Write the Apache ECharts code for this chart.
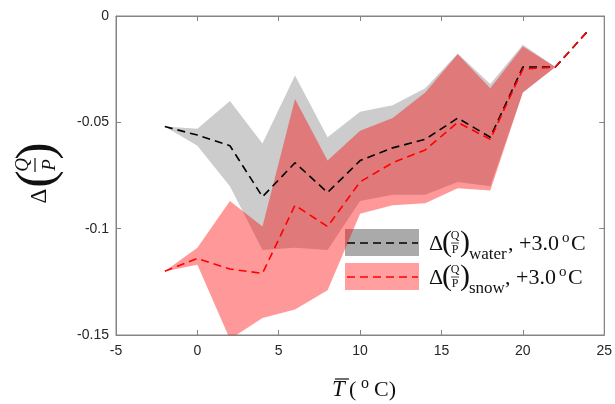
<!DOCTYPE html>
<html>
<head>
<meta charset="utf-8">
<script src="https://cdn.jsdelivr.net/npm/echarts@6/dist/echarts.min.js"></script>
<style>
  html, body { margin: 0; padding: 0; background: #fff; }
  #chart { width: 615px; height: 404px; }
</style>
</head>
<body>
<div id="chart"></div>
<script>
  // mean temperature bins (x)
  var temps = [-2, 0, 2, 4, 6, 8, 10, 12, 14, 16, 18, 20, 22, 24]
  // water-limited change and its range
  var waterMean = [-0.052, -0.056, -0.061, -0.085, -0.069, -0.083, -0.068, -0.062, -0.058, -0.048, -0.057, -0.024, -0.024, -0.007]
  var waterUpper = [-0.052, -0.053, -0.040, -0.060, -0.028, -0.057, -0.045, -0.042, -0.034, -0.0176, -0.032, -0.0135, -0.024, -0.007]
  var waterLower = [-0.052, -0.061, -0.080, -0.110, -0.109, -0.110, -0.087, -0.084, -0.084, -0.078, -0.080, -0.036, -0.024, -0.007]
  // snow change and its range
  var snowMean = [-0.120, -0.114, -0.119, -0.121, -0.089, -0.099, -0.078, -0.069, -0.063, -0.050, -0.058, -0.025, -0.024, -0.007]
  var snowUpper = [-0.120, -0.109, -0.087, -0.099, -0.039, -0.068, -0.054, -0.048, -0.036, -0.018, -0.034, -0.0144, -0.024, -0.007]
  var snowLower = [-0.120, -0.117, -0.152, -0.142, -0.138, -0.129, -0.093, -0.089, -0.088, -0.081, -0.082, -0.036, -0.024, -0.007]

  var xTicks = { min: -5, max: 25, interval: 5 }
  var yTicks = { min: -0.15, max: 0, interval: 0.05 }

  var serif = 'Liberation Serif'
  var axisGray = '#858585'

  function pairs(ys) {
    return temps.map(function (t, i) { return [t, ys[i]] })
  }

  // band polygon drawn through the axes (upper edge then lower edge back)
  function band(upper, lower, color) {
    return {
      type: 'custom',
      clip: true,
      silent: true,
      data: [0],
      renderItem: function (params, api) {
        var pts = []
        for (var i = 0; i < temps.length; i++) pts.push(api.coord([temps[i], upper[i]]))
        for (var j = temps.length - 1; j >= 0; j--) pts.push(api.coord([temps[j], lower[j]]))
        return { type: 'polygon', shape: { points: pts }, style: { fill: color } }
      }
    }
  }

  function dashLine(ys, color) {
    return {
      type: 'line',
      data: pairs(ys),
      symbol: 'none',
      silent: true,
      lineStyle: { color: color, width: 1.6, type: [8, 5] }
    }
  }

  function txt(x, y, s, size, opt) {
    opt = opt || {}
    return {
      type: 'text', x: x, y: y,
      style: {
        text: s, fontFamily: serif, fontSize: size, fill: '#111',
        fontStyle: opt.italic ? 'italic' : 'normal',
        align: opt.align || 'left', verticalAlign: 'middle'
      }
    }
  }

  function legendRow(y, boxColor, lineColor, sub, commaX) {
    return [
      { type: 'rect', shape: { x: 345, y: y - 14, width: 74, height: 27 }, style: { fill: boxColor } },
      { type: 'line', shape: { x1: 347, y1: y, x2: 418, y2: y }, style: { stroke: lineColor, lineWidth: 1.6, lineDash: [8, 5] } },
      txt(429, y + 1, 'Δ', 22),
      txt(442, y, '(', 30),
      txt(455, y - 7, 'Q', 12, { align: 'center' }),
      { type: 'line', shape: { x1: 451, y1: y, x2: 459, y2: y }, style: { stroke: '#111', lineWidth: 0.8 } },
      txt(455, y + 7, 'P', 12, { align: 'center' }),
      txt(460, y, ')', 30),
      txt(469, y + 12, sub, 17),
      txt(commaX, y + 1, ', +3.0', 22),
      txt(commaX + 54, y - 5, 'o', 15),
      txt(commaX + 63, y + 1, 'C', 22)
    ]
  }

  var chart = echarts.init(document.getElementById('chart'))
  var option = {
    animation: false,
    grid: { left: 116, right: 9, top: 16, bottom: 69, show: true, borderColor: axisGray, borderWidth: 1 },
    xAxis: [{
      type: 'value', min: xTicks.min, max: xTicks.max, interval: xTicks.interval,
      axisLine: { show: true, onZero: false, lineStyle: { color: axisGray } },
      axisTick: { show: true, inside: true, length: 5, lineStyle: { color: axisGray } },
      axisLabel: { color: '#262626', fontSize: 14, fontFamily: 'Liberation Sans', margin: 9 },
      splitLine: { show: false }
    }, {
      type: 'value', position: 'top', min: xTicks.min, max: xTicks.max, interval: xTicks.interval,
      axisLine: { show: true, onZero: false, lineStyle: { color: axisGray } },
      axisTick: { show: true, inside: true, length: 5, lineStyle: { color: axisGray } },
      axisLabel: { show: false }, splitLine: { show: false }
    }],
    yAxis: [{
      type: 'value', min: yTicks.min, max: yTicks.max, interval: yTicks.interval,
      axisLine: { show: true, onZero: false, lineStyle: { color: axisGray } },
      axisTick: { show: true, inside: true, length: 5, lineStyle: { color: axisGray } },
      axisLabel: { color: '#262626', fontSize: 14, fontFamily: 'Liberation Sans', margin: 7 },
      splitLine: { show: false }
    }, {
      type: 'value', position: 'right', min: yTicks.min, max: yTicks.max, interval: yTicks.interval,
      axisLine: { show: true, onZero: false, lineStyle: { color: axisGray } },
      axisTick: { show: true, inside: true, length: 5, lineStyle: { color: axisGray } },
      axisLabel: { show: false }, splitLine: { show: false }
    }],
    series: [
      band(waterUpper, waterLower, '#cccccc'),
      dashLine(waterMean, '#000000'),
      band(snowUpper, snowLower, 'rgba(255,0,0,0.4)'),
      dashLine(snowMean, '#ff0000')
    ],
    graphic: [].concat(
      legendRow(243, '#aaaaaa', '#000000', 'water', 508),
      legendRow(277, '#ff9f9f', '#ff0000', 'snow', 505),
      [
        // x axis title: T-bar (oC)
        txt(332, 390, 'T', 23, { italic: true }),
        { type: 'line', shape: { x1: 335, y1: 379, x2: 349, y2: 379 }, style: { stroke: '#111', lineWidth: 1.2 } },
        txt(349, 390, '(', 22),
        txt(361, 384, 'o', 16),
        txt(374, 390, 'C)', 22),
        // y axis title: delta (Q/P), rotated
        {
          type: 'group', x: 38, y: 173, rotation: Math.PI / 2,
          children: [
            txt(-23, 2, 'Δ', 23, { align: 'center' }),
            txt(-6, 0, '(', 52, { align: 'center' }),
            txt(8, -15, 'Q', 19, { italic: true, align: 'center' }),
            { type: 'line', shape: { x1: 1, y1: -3, x2: 15, y2: -3 }, style: { stroke: '#111', lineWidth: 1.2 } },
            txt(8, 12, 'P', 19, { italic: true, align: 'center' }),
            txt(22, 0, ')', 52, { align: 'center' })
          ]
        }
      ]
    )
  }
  chart.setOption(option)
</script>
</body>
</html>
